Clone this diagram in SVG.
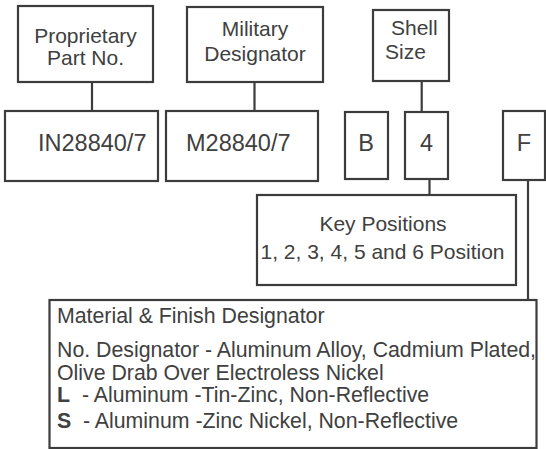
<svg xmlns="http://www.w3.org/2000/svg" width="546" height="449" viewBox="0 0 546 449">
<style>
.b{fill:#fff;stroke:#3c3c3c;stroke-width:2.2}
.c{stroke:#3c3c3c;stroke-width:2.2;fill:none}
text{font-family:"Liberation Sans",Arial,sans-serif;fill:#404040;font-size:21px}
.m{text-anchor:middle}
.big{font-size:23.5px}
.bd{font-weight:bold}
.mt{font-size:21.3px}
</style>
<rect width="546" height="449" fill="#fff"/>
<g id="connectors">
<line class="c" x1="92" y1="82" x2="92" y2="111"/>
<line class="c" x1="254.5" y1="82" x2="254.5" y2="111"/>
<line class="c" x1="421.7" y1="81" x2="421.7" y2="112"/>
<line class="c" x1="429.5" y1="179" x2="429.5" y2="195"/>
<line class="c" x1="528" y1="180" x2="528" y2="300"/>
</g>
<g id="proprietary">
<rect class="b" x="18" y="6" width="135" height="76"/>
<text class="m" x="85.5" y="43">Proprietary</text>
<text class="m" x="85.5" y="65">Part No.</text>
</g>
<g id="military">
<rect class="b" x="187" y="7" width="136" height="75"/>
<text class="m" x="255" y="36">Military</text>
<text class="m" x="255" y="61">Designator</text>
</g>
<g id="shell">
<rect class="b" x="373" y="10" width="76" height="71"/>
<text x="391" y="35">Shell</text>
<text x="385" y="59">Size</text>
</g>
<g id="in">
<rect class="b" x="5" y="111" width="153" height="70"/>
<text class="big" x="38" y="151">IN28840/7</text>
</g>
<g id="m">
<rect class="b" x="166" y="111" width="152" height="70"/>
<text class="big" x="186" y="151">M28840/7</text>
</g>
<g id="b">
<rect class="b" x="345" y="112" width="43" height="67"/>
<text class="m big" x="366" y="151">B</text>
</g>
<g id="four">
<rect class="b" x="405" y="112" width="43" height="67"/>
<text class="m big" x="426.5" y="151">4</text>
</g>
<g id="f">
<rect class="b" x="503" y="111" width="42" height="69"/>
<text class="m big" x="524" y="151">F</text>
</g>
<g id="key">
<rect class="b" x="257" y="195" width="259" height="90"/>
<text class="m" x="383" y="231">Key Positions</text>
<text class="m" x="382.5" y="259">1, 2, 3, 4, 5 and 6 Position</text>
</g>
<g id="material">
<rect class="b" x="49.5" y="300" width="487" height="148"/>
<text class="mt" x="57" y="323">Material &amp; Finish Designator</text>
<text class="mt" x="57" y="357">No. Designator - Aluminum Alloy, Cadmium Plated,</text>
<text class="mt" x="57" y="380">Olive Drab Over Electroless Nickel</text>
<text class="mt" x="57" y="402"><tspan class="bd">L</tspan><tspan x="82">- Aluminum -Tin-Zinc, Non-Reflective</tspan></text>
<text class="mt" x="57" y="428"><tspan class="bd">S</tspan><tspan x="83">- Aluminum -Zinc Nickel, Non-Reflective</tspan></text>
</g>
</svg>
